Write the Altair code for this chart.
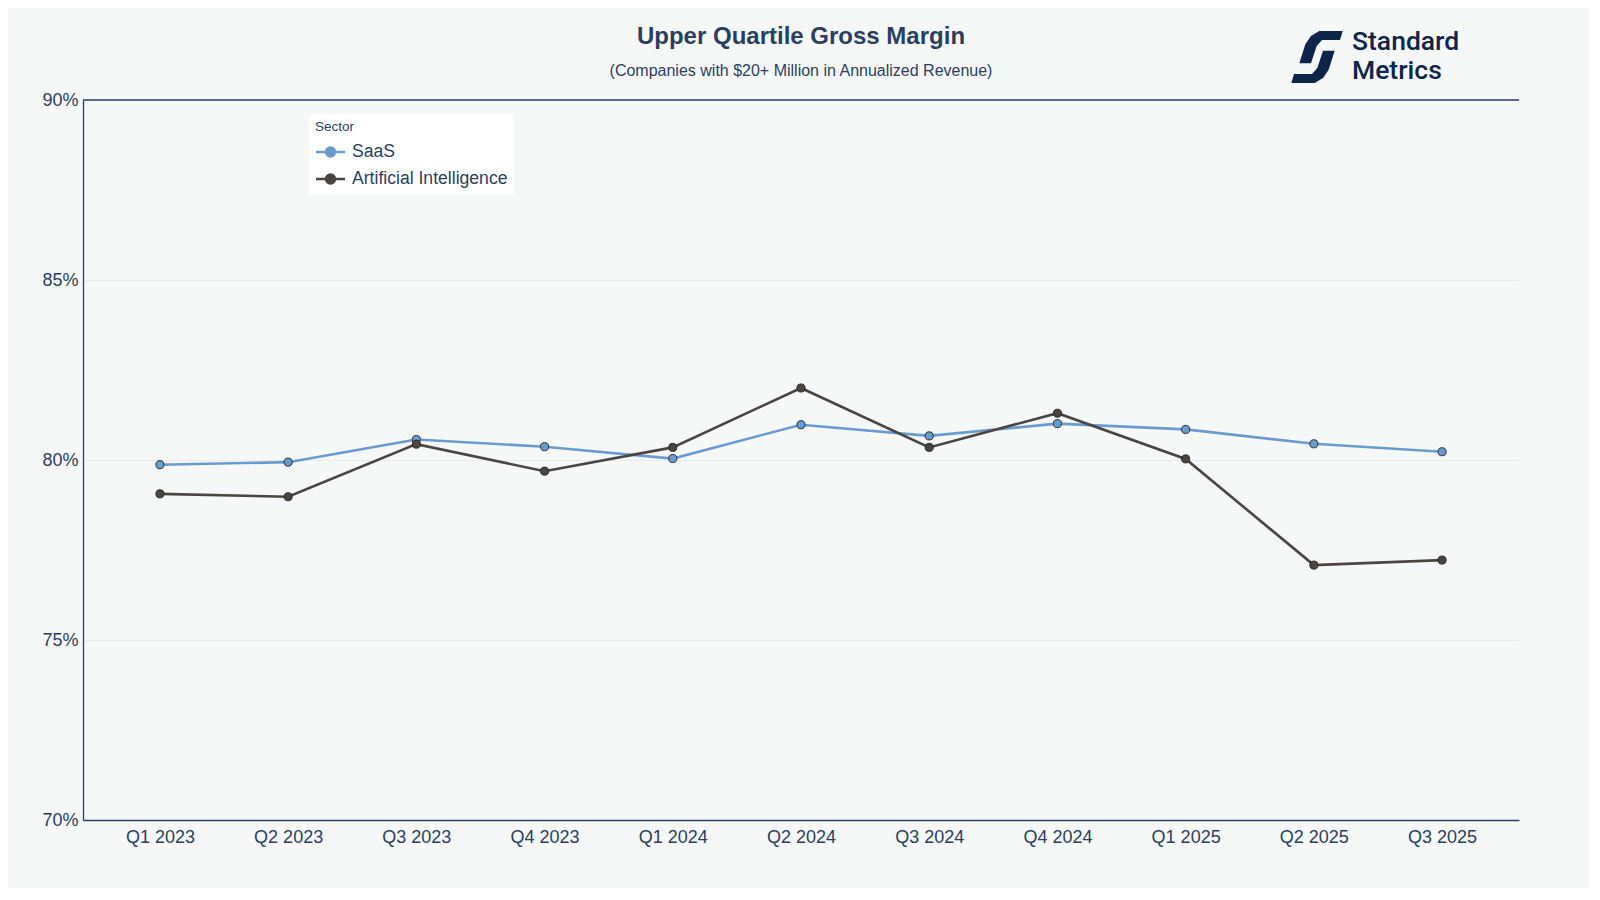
import altair as alt
import pandas as pd

quarters = ["Q1 2023", "Q2 2023", "Q3 2023", "Q4 2023", "Q1 2024", "Q2 2024",
            "Q3 2024", "Q4 2024", "Q1 2025", "Q2 2025", "Q3 2025"]
saas = [79.87, 79.94, 80.57, 80.37, 80.04, 80.98, 80.67, 81.01, 80.85, 80.45, 80.23]
ai = [79.06, 78.98, 80.44, 79.69, 80.35, 82.00, 80.35, 81.30, 80.03, 77.08, 77.22]
sectors = ["SaaS", "Artificial Intelligence"]
colors = ["#6a9bcf", "#4b4541"]
y_ticks = [70, 75, 80, 85, 90]
title_text = "Upper Quartile Gross Margin"
subtitle_text = "(Companies with $20+ Million in Annualized Revenue)"
logo_words = ["Standard", "Metrics"]

rows = []
for q, v in zip(quarters, saas):
    rows.append({"Quarter": q, "Sector": "SaaS", "Margin": v})
for q, v in zip(quarters, ai):
    rows.append({"Quarter": q, "Sector": "Artificial Intelligence", "Margin": v})
df = pd.DataFrame(rows)

FONT = "Liberation Sans"
INK = "#2a3f5f"
NAVY = "#0d2548"
BG = "#f6f8f8"
W, H = 1436, 720

legend_symbol = ("M-1.45,0H-0.45M0.45,0H1.45"
                 "M-0.45,0A0.45,0.45 0 1,0 0.45,0A0.45,0.45 0 1,0 -0.45,0Z")

x_enc = alt.X("Quarter:N", sort=quarters,
              scale=alt.Scale(type="point", padding=0.6),
              axis=alt.Axis(title=None, labelAngle=0, labelFontSize=18, labelColor=INK,
                            labelFont=FONT, ticks=False, labelPadding=8,
                            domainColor=INK, domainWidth=1.3, grid=False))
y_enc = alt.Y("Margin:Q", scale=alt.Scale(domain=[70, 90], nice=False, zero=False),
              axis=alt.Axis(title=None, values=y_ticks, labelExpr="datum.value + '%'",
                            labelFontSize=18, labelColor=INK, labelFont=FONT,
                            ticks=False, labelPadding=5, domainColor=INK, domainWidth=1.3,
                            grid=True, gridColor="#e9ebeb", gridWidth=1))
color_enc = alt.Color("Sector:N", sort=sectors,
                      scale=alt.Scale(domain=sectors, range=colors),
                      legend=alt.Legend(title="Sector", orient="none", legendX=226, legendY=14,
                                        fillColor="white", padding=6,
                                        titleFontSize=13.5, titleFontWeight="normal",
                                        titleColor=INK, titleFont=FONT, titlePadding=7,
                                        labelFontSize=17.6, labelColor=INK, labelFont=FONT,
                                        symbolType=legend_symbol, symbolSize=400,
                                        symbolOffset=4,
                                        symbolStrokeWidth=2.5, rowPadding=6, labelOffset=10))

base = alt.Chart(df)
lines = base.mark_line(strokeWidth=2.6).encode(x=x_enc, y=y_enc, color=color_enc)
points = base.mark_point(filled=True, size=66, stroke="#222222", strokeWidth=0.9,
                         opacity=1).encode(
    x=x_enc, y=y_enc, fill=alt.Fill("Sector:N", scale=alt.Scale(domain=sectors, range=colors),
                                    legend=None))

top_line = alt.Chart(pd.DataFrame({"v": [90]})).mark_rule(
    color=INK, strokeWidth=1.3).encode(y=alt.Y("v:Q", scale=alt.Scale(domain=[70, 90])))

title_df = pd.DataFrame({"t": [title_text]})
subtitle_df = pd.DataFrame({"t": [subtitle_text]})
title_mark = alt.Chart(title_df).mark_text(
    align="center", baseline="middle", font=FONT, fontSize=24, fontWeight="bold",
    color=INK).encode(text="t:N", x=alt.value(W / 2), y=alt.value(-63))
subtitle_mark = alt.Chart(subtitle_df).mark_text(
    align="center", baseline="middle", font=FONT, fontSize=16,
    color=INK).encode(text="t:N", x=alt.value(W / 2), y=alt.value(-29))

logo_df = pd.DataFrame({"t": logo_words, "dy": [-50, -21]})
icon_path = ("M0.075,-0.839L0.828,-0.839L0.742,-0.548L0.161,-0.548L-0.011,-0.355"
             "L-0.194,0.204L-0.570,0.204L-0.376,-0.409L-0.194,-0.677Z"
             "M-0.075,0.839L-0.828,0.839L-0.742,0.548L-0.161,0.548L0.011,0.355"
             "L0.194,-0.204L0.570,-0.204L0.376,0.409L0.194,0.677Z")
icon = alt.Chart(pd.DataFrame({"k": [1]})).mark_point(
    shape=icon_path, filled=True, size=3844, color=NAVY, opacity=1, strokeWidth=0).encode(
    x=alt.value(1234), y=alt.value(-43))
logo_text = alt.Chart(logo_df).mark_text(
    align="left", baseline="alphabetic", font="Roboto", fontWeight=500, fontSize=26.5,
    color=NAVY).encode(text="t:N", x=alt.value(1269), y=alt.Y("dy:Q", scale=None))

chart = alt.layer(top_line, lines, points, icon, logo_text, title_mark, subtitle_mark).properties(
    width=W, height=H,
    autosize=alt.AutoSizeParams(type="none"),
    padding={"left": 75, "top": 92, "right": 70, "bottom": 68},
    background=BG,
).configure_view(stroke=None, fill=BG)

chart.save("out.html", embed_options={"renderer": "svg", "actions": False})
